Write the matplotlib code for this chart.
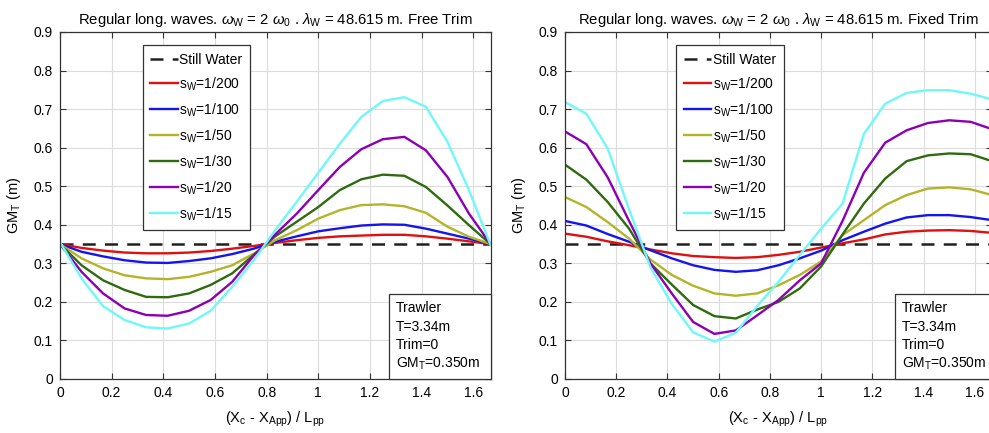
import numpy as np
import matplotlib
matplotlib.use("Agg")
import matplotlib.pyplot as plt
from matplotlib.patches import Rectangle
from matplotlib.ticker import FormatStrFormatter

plt.rcParams['font.family'] = ['Liberation Sans', 'DejaVu Sans']
plt.rcParams['mathtext.fontset'] = 'custom'
plt.rcParams['mathtext.rm'] = 'Liberation Sans'
plt.rcParams['mathtext.it'] = 'Liberation Sans:italic'
plt.rcParams['mathtext.default'] = 'regular'

# x positions (X_c - X_App) / L_pp : 21 stations over one wave length
x_pos = np.arange(21) / 12.0
gm_still = 0.350

labels = ['s$_W$=1/200', 's$_W$=1/100', 's$_W$=1/50',
          's$_W$=1/30', 's$_W$=1/20', 's$_W$=1/15']
colors = ['#e01010', '#1414f0', '#b4b42a', '#2e6b0e', '#8c00b4', '#70f8f8']

# Free trim
free_200 = [0.350, 0.340, 0.333, 0.328, 0.326, 0.326, 0.328, 0.332, 0.338, 0.345, 0.353,
            0.360, 0.366, 0.370, 0.372, 0.374, 0.374, 0.370, 0.364, 0.357, 0.350]
free_100 = [0.350, 0.330, 0.318, 0.308, 0.302, 0.301, 0.306, 0.313, 0.324, 0.338, 0.356,
            0.370, 0.383, 0.391, 0.398, 0.401, 0.400, 0.390, 0.377, 0.364, 0.350]
free_50 = [0.350, 0.313, 0.287, 0.269, 0.261, 0.259, 0.265, 0.278, 0.295, 0.325, 0.360,
           0.386, 0.416, 0.438, 0.451, 0.453, 0.448, 0.431, 0.395, 0.369, 0.350]
free_30 = [0.350, 0.295, 0.256, 0.231, 0.213, 0.212, 0.222, 0.244, 0.274, 0.322, 0.370,
           0.408, 0.446, 0.490, 0.518, 0.530, 0.527, 0.498, 0.450, 0.399, 0.350]
free_20 = [0.350, 0.278, 0.222, 0.183, 0.166, 0.164, 0.177, 0.205, 0.252, 0.320, 0.375,
           0.429, 0.490, 0.550, 0.596, 0.622, 0.628, 0.593, 0.524, 0.429, 0.350]
free_15 = [0.355, 0.261, 0.189, 0.153, 0.134, 0.131, 0.144, 0.177, 0.239, 0.308, 0.386,
           0.460, 0.535, 0.610, 0.680, 0.721, 0.731, 0.706, 0.615, 0.490, 0.348]

# Fixed trim
fix_200 = [0.377, 0.369, 0.357, 0.347, 0.336, 0.326, 0.319, 0.316, 0.314, 0.316, 0.322,
           0.330, 0.341, 0.352, 0.362, 0.375, 0.382, 0.385, 0.386, 0.384, 0.379]
fix_100 = [0.410, 0.398, 0.376, 0.356, 0.334, 0.313, 0.295, 0.283, 0.278, 0.282, 0.295,
           0.313, 0.333, 0.360, 0.382, 0.403, 0.419, 0.425, 0.425, 0.420, 0.412]
fix_50 = [0.472, 0.446, 0.407, 0.364, 0.310, 0.270, 0.242, 0.222, 0.216, 0.222, 0.243,
          0.270, 0.305, 0.373, 0.412, 0.451, 0.477, 0.494, 0.497, 0.492, 0.477]
fix_30 = [0.556, 0.517, 0.459, 0.390, 0.300, 0.245, 0.192, 0.163, 0.157, 0.180, 0.200,
          0.235, 0.292, 0.375, 0.455, 0.520, 0.565, 0.580, 0.585, 0.583, 0.565]
fix_20 = [0.642, 0.609, 0.523, 0.410, 0.300, 0.222, 0.148, 0.117, 0.126, 0.165, 0.205,
          0.256, 0.300, 0.410, 0.535, 0.613, 0.645, 0.664, 0.671, 0.667, 0.648]
fix_15 = [0.718, 0.688, 0.598, 0.440, 0.290, 0.195, 0.121, 0.097, 0.120, 0.189, 0.252,
          0.322, 0.390, 0.455, 0.636, 0.714, 0.742, 0.749, 0.749, 0.740, 0.725]

free_series = [free_200, free_100, free_50, free_30, free_20, free_15]
fix_series = [fix_200, fix_100, fix_50, fix_30, fix_20, fix_15]

info_lines = ['Trawler', 'T=3.34m', 'Trim=0', 'GM$_T$=0.350m']
titles = [r'Regular long. waves. $\mathit{\omega}_W$ = 2 $\mathit{\omega}_0$ . $\mathit{\lambda}_W$ = 48.615 m. Free Trim',
          r'Regular long. waves. $\mathit{\omega}_W$ = 2 $\mathit{\omega}_0$ . $\mathit{\lambda}_W$ = 48.615 m. Fixed Trim']

W, H = 989, 433
fig = plt.figure(figsize=(W / 100, H / 100), dpi=100)
axes = [fig.add_axes([60 / W, 54 / H, 430.5 / W, 347 / H]),
        fig.add_axes([565 / W, 54 / H, 427 / W, 347 / H])]
legend_left = [0.192, 0.26]
box_left = [0.764, 0.773]
box_right = [1.0, 1.03]

for i, (ax, series) in enumerate(zip(axes, [free_series, fix_series])):
    ax.plot([x_pos[0], x_pos[-1]], [gm_still, gm_still], color='#202020',
            ls=(0, (5.2, 3.7)), lw=1.8, label='Still Water')
    for vals, lab, col in zip(series, labels, colors):
        ax.plot(x_pos, vals, color=col, lw=1.7, label=lab)
    ax.set_xlim(0, x_pos[-1])
    ax.set_ylim(0, 0.9)
    ax.set_xticks(np.arange(0, 1.61, 0.2))
    ax.set_yticks(np.arange(0, 0.91, 0.1))
    ax.xaxis.set_major_formatter(FormatStrFormatter('%g'))
    ax.yaxis.set_major_formatter(FormatStrFormatter('%g'))
    ax.grid(True, color='#dcdcdc', lw=0.8)
    ax.set_axisbelow(True)
    ax.tick_params(direction='in', top=True, right=True, labelsize=10,
                   length=4, color='#333333', pad=5)
    for sp in ax.spines.values():
        sp.set_color('#333333')
        sp.set_linewidth(0.9)
    ax.set_title(titles[i], fontsize=10.7, pad=6)
    ax.set_xlabel('(X$_c$ - X$_{App}$) / L$_{pp}$', fontsize=10.5, labelpad=7)
    ax.set_ylabel('GM$_T$ (m)', fontsize=10.5, labelpad=8)

    leg = ax.legend(loc='upper left', bbox_to_anchor=(legend_left[i], 0.9625),
                    borderaxespad=0, fontsize=10, handlelength=2.0,
                    handletextpad=0.1, labelspacing=0.62, borderpad=0.55,
                    fancybox=False, framealpha=1, edgecolor='#333333')
    leg.get_frame().set_linewidth(0.9)

    ax.add_patch(Rectangle((box_left[i], 0), box_right[i] - box_left[i], 0.244,
                           transform=ax.transAxes, facecolor='white',
                           edgecolor='#333333', lw=0.9, zorder=5, clip_on=False))
    for j, line in enumerate(info_lines):
        ax.text(box_left[i] + 0.016, 0.192 - j * 0.053, line, transform=ax.transAxes,
                fontsize=10, va='baseline', ha='left', zorder=6)

fig.savefig('out.png', dpi=100)
